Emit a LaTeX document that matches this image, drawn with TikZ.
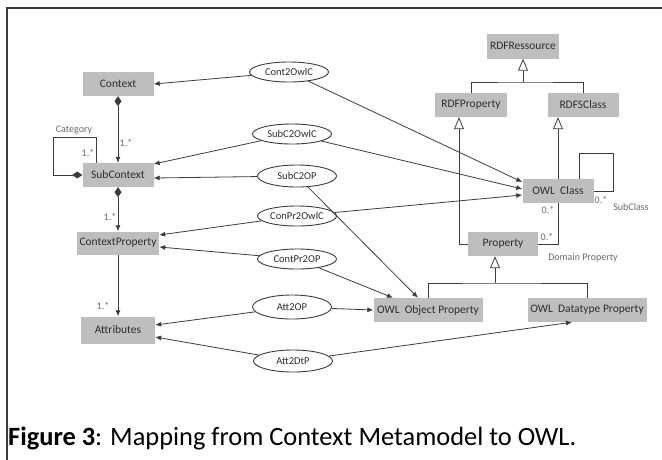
\documentclass[tikz,border=0pt]{standalone}
\usepackage{fontspec}
\setmainfont{Carlito}
\usetikzlibrary{shapes.geometric,arrows.meta}
\definecolor{ink}{HTML}{3C3C3C}
\definecolor{boxgray}{HTML}{BEBEBE}
\definecolor{txt}{HTML}{2E2E2E}
\definecolor{lblgray}{HTML}{6A6A6A}

\begin{document}
\begin{tikzpicture}[x=1pt,y=-1pt,
  cls/.style={fill=boxgray, text=txt, font=\fontsize{11.5}{12}\selectfont,
    inner sep=0pt, minimum height=24pt},
  rule/.style={ellipse, draw=ink, line width=0.9pt, text=txt,
    font=\fontsize{10.5}{11}\selectfont, inner sep=0pt,
    minimum width=79pt, minimum height=20pt},
  lbl/.style={text=lblgray, font=\fontsize{10}{11}\selectfont, inner sep=0pt},
  conn/.style={draw=ink, line width=0.8pt},
  map/.style={conn, -{Latex[length=6pt,width=5pt]}},
  inh/.style={conn, -{Triangle[open,length=12pt,width=10pt]}},
  comp/.style={conn, {Diamond[length=10pt,width=7pt]}-{Latex[length=6pt,width=5pt]}},
]
\useasboundingbox (0,0) rectangle (662,459);
\clip (0,0) rectangle (662,459);
\fill[white] (0,0) rectangle (662,459);
\draw[ink, line width=1.3pt] (7,8) rectangle (700,500);

% context metamodel
\node[cls, minimum width=71pt] (context) at (118,84) {Context};
\node[cls, minimum width=71pt] (subctx) at (118,175) {SubContext};
\node[cls, minimum width=82pt, minimum height=23pt] (ctxprop) at (118,243) {ContextProperty};
\node[cls, minimum width=74pt, minimum height=27pt] (attr) at (118,330) {Attributes};

% OWL metamodel
\node[cls, minimum width=72pt, minimum height=25pt] (rdfr) at (523,46) {RDFRessource};
\node[cls, minimum width=72pt] (rdfp) at (471,105) {RDFProperty};
\node[cls, minimum width=71pt] (rdfs) at (583,105) {RDFSClass};
\node[cls, minimum width=71pt] (owlc) at (558,191) {OWL~ Class};
\node[cls, minimum width=70pt] (prop) at (503,244) {Property};
\node[cls, minimum width=109pt] (oop) at (428,310) {OWL~ Object Property};
\node[cls, minimum width=119pt] (odp) at (587,310) {OWL~ Datatype Property};

% mapping rules
\node[rule] (r1) at (289,72) {Cont2OwlC};
\node[rule] (r2) at (292,134) {SubC2OwlC};
\node[rule, minimum height=22pt] (r3) at (297,176) {SubC2OP};
\node[rule] (r4) at (297,216) {ConPr2OwlC};
\node[rule] (r5) at (297,259) {ContPr2OP};
\node[rule, minimum height=24pt] (r6) at (292,307) {Att2OP};
\node[rule, minimum height=22pt] (r7) at (293,361) {Att2DtP};

% rule connectors
\draw[map] (r1) -- (context.east);
\draw[map] (r1) -- ([yshift=9pt]owlc.west);
\draw[map] (r2) -- ([yshift=11pt]subctx.east);
\draw[map] (r2) -- ([yshift=2pt]owlc.west);
\draw[map] (r3) -- ([yshift=-3pt]subctx.east);
\draw[map] (r3) -- ([xshift=-10pt]oop.north);
\draw[map] (r4) -- ([yshift=8pt]ctxprop.east);
\draw[map] (r4) -- ([yshift=-4pt]owlc.west);
\draw[map] (r5) -- ([yshift=-4pt]ctxprop.east);
\draw[map] (r5) -- ([xshift=-35pt]oop.north);
\draw[map] (r6) -- ([yshift=5pt]attr.east);
\draw[map] (r6) -- (oop.west);
\draw[map] (r7) -- ([yshift=-7pt]attr.east);
\draw[map] (r7) -- ([xshift=-15pt]odp.south);

% context associations
\draw[comp] (context.south) -- (subctx.north);
\draw[comp] (subctx.south) -- (ctxprop.north);
\draw[conn, -{Latex[length=6pt,width=5pt]}] (ctxprop.south) -- (attr.north);
\coordinate (catL) at (53,137);
\draw[conn, {Diamond[length=10pt,width=7pt]}-] (subctx.west) -| (catL) -| ([xshift=-22pt]subctx.north);

\node[lbl] (m1) at (126,143) {1.*};
\node[lbl] (m2) at (110,217) {1.*};
\node[lbl] (m3) at (103,306) {1.*};
\node[lbl] (m4) at (88,153) {1.*};
\node[lbl] (cat) at (74,130) {Category};

% OWL generalisations
\coordinate (j1) at (523,82);
\draw[conn] (rdfp.north) |- (j1) -| (rdfs.north);
\draw[inh] (j1) -- (rdfr.south);
\draw[inh] (owlc.north) -- (owlc.north |- rdfs.south);
\draw[inh] (prop.west) -| ([xshift=-12pt]rdfp.south);
\coordinate (j2) at (495,283);
\draw[conn] (oop.north) |- (j2) -| (odp.north);
\draw[inh] (j2) -- (j2 |- prop.south);

% OWL associations
\draw[conn] (prop.east) -| (owlc.south);
\coordinate (scTR) at (613,153);
\draw[conn] ([xshift=21pt]owlc.north) |- (scTR) |- (owlc.east);

\node[lbl] (m5) at (601,200) {0.*};
\node[lbl] (sc) at (631,207) {SubClass};
\node[lbl] (m6) at (548,210) {0.*};
\node[lbl] (m7) at (547,237) {0.*};
\node[lbl] (dp) at (583,258) {Domain Property};

% caption
\node[anchor=base west, inner sep=0pt, font=\fontsize{26.4}{30}\selectfont, text=black]
  (cap) at (8,445) {\textbf{Figure 3}: Mapping from Context Metamodel to OWL.};
\end{tikzpicture}
\end{document}
